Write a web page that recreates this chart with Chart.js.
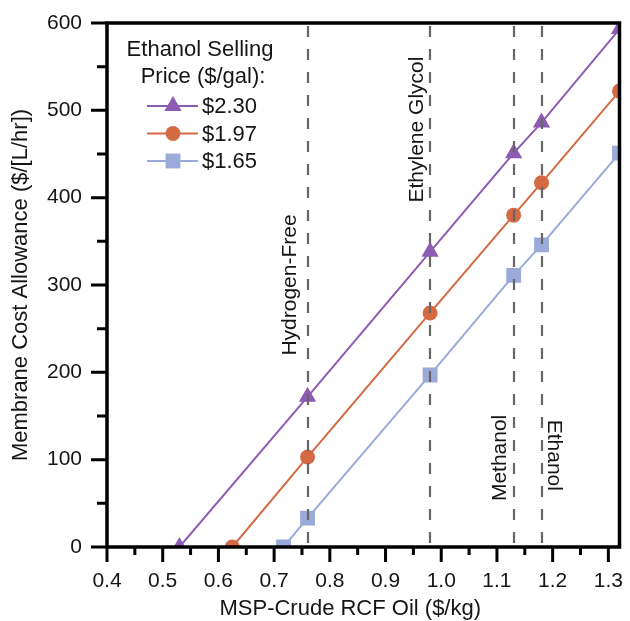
<!DOCTYPE html>
<html><head><meta charset="utf-8">
<script src="https://cdn.jsdelivr.net/npm/chart.js@4.4.1/dist/chart.umd.min.js"></script>
<style>html,body{margin:0;padding:0;background:#fff}canvas{display:block}</style>
</head><body>
<canvas id="c" width="630" height="621"></canvas>
<script>
// ---- data ----
const seriesLabels = ['$2.30', '$1.97', '$1.65'];
const mspX_230 = [0.53, 0.76, 0.98, 1.13, 1.18, 1.32];
const allow_230 = [0, 172, 338, 451, 486, 593];
const mspX_197 = [0.625, 0.76, 0.98, 1.13, 1.18, 1.32];
const allow_197 = [0, 103, 268, 380, 417, 522];
const mspX_165 = [0.717, 0.76, 0.98, 1.13, 1.18, 1.32];
const allow_165 = [0, 33, 197, 311, 346, 451];
const refX = [0.76, 0.98, 1.13, 1.18];
const refLabels = ['Hydrogen-Free', 'Ethylene Glycol', 'Methanol', 'Ethanol'];
const refLabelAt = [300, 478, 102, 105];
const xTickVals = [0.4, 0.5, 0.6, 0.7, 0.8, 0.9, 1.0, 1.1, 1.2, 1.3];
const yTickVals = [0, 100, 200, 300, 400, 500, 600];
const legendTitle = ['Ethanol Selling', 'Price ($/gal):'];
const xTitle = 'MSP-Crude RCF Oil ($/kg)';
const yTitle = 'Membrane Cost Allowance ($/[L/hr])';

const FONT = '"Liberation Sans", Arial, sans-serif';
const TXT = '#151515';
const colors = ['#8e5bb3', '#d36a43', '#9aaad9'];
const styles = ['triangle', 'circle', 'rect'];
const radii = [10, 7.5, 10.5];

const pairs = (xs, ys) => xs.map((v, i) => ({x: v, y: ys[i]}));
const seriesData = [pairs(mspX_230, allow_230), pairs(mspX_197, allow_197), pairs(mspX_165, allow_165)];

function marker(ctx, style, r, x, y, color) {
  ctx.save();
  ctx.fillStyle = color;
  ctx.beginPath();
  if (style === 'triangle') {
    const a = -Math.PI / 2;
    for (let k = 0; k < 3; k++) {
      const ang = a + k * 2 * Math.PI / 3;
      const px = x + Math.cos(ang) * r, py = y + Math.sin(ang) * r;
      k ? ctx.lineTo(px, py) : ctx.moveTo(px, py);
    }
    ctx.closePath();
  } else if (style === 'circle') {
    ctx.arc(x, y, r, 0, Math.PI * 2);
  } else {
    const s = Math.SQRT1_2 * r;
    ctx.rect(x - s, y - s, 2 * s, 2 * s);
  }
  ctx.fill();
  ctx.restore();
}

const deco = {
  id: 'deco',
  afterDatasetsDraw(chart) {
    const {ctx, chartArea: a, scales: {x, y}} = chart;
    ctx.save();
    // reference dashed lines
    ctx.strokeStyle = '#666666';
    ctx.lineWidth = 2.2;
    ctx.setLineDash([11, 12]);
    refX.forEach(v => {
      const px = Math.round(x.getPixelForValue(v));
      ctx.beginPath();
      ctx.moveTo(px, a.top + 3);
      ctx.lineTo(px, a.bottom);
      ctx.stroke();
    });
    ctx.setLineDash([]);
    // reference labels
    ctx.fillStyle = TXT;
    ctx.font = '21px ' + FONT;
    ctx.textAlign = 'center';
    ctx.textBaseline = 'alphabetic';
    refX.forEach((v, i) => {
      const px = x.getPixelForValue(v);
      const py = y.getPixelForValue(refLabelAt[i]);
      ctx.save();
      if (i === 3) {
        ctx.translate(px + 6, py);
        ctx.rotate(Math.PI / 2);
      } else {
        const off = [12, 7, 8][i];
        ctx.translate(px - off, py);
        ctx.rotate(-Math.PI / 2);
      }
      ctx.fillText(refLabels[i], 0, 0);
      ctx.restore();
    });
    // frame
    ctx.strokeStyle = '#000';
    ctx.lineWidth = 3.5;
    ctx.strokeRect(a.left, a.top, a.right - a.left, a.bottom - a.top);
    // ticks
    ctx.lineWidth = 3;
    ctx.beginPath();
    for (let v = 0; v <= 600; v += 50) {
      const py = y.getPixelForValue(v);
      const len = v % 100 === 0 ? 16 : 10;
      ctx.moveTo(a.left, py); ctx.lineTo(a.left - len, py);
    }
    for (let k = 0; k <= 18; k++) {
      const v = 0.4 + k * 0.05;
      const px = x.getPixelForValue(v);
      const len = k % 2 === 0 ? 15 : 8;
      ctx.moveTo(px, a.bottom); ctx.lineTo(px, a.bottom + len);
    }
    ctx.stroke();
    ctx.restore();
  },
  afterDraw(chart) {
    const {ctx, chartArea: a} = chart;
    ctx.save();
    ctx.fillStyle = TXT;
    ctx.font = '22px ' + FONT;
    ctx.textAlign = 'center';
    ctx.textBaseline = 'middle';
    const cx = a.left + 94;
    ctx.fillText(legendTitle[0], cx - 1, a.top + 27);
    ctx.fillText(legendTitle[1], cx + 2, a.top + 54);
    ctx.textAlign = 'left';
    seriesLabels.forEach((lab, i) => {
      const ly = a.top + 83 + i * 27.5;
      ctx.strokeStyle = colors[i];
      ctx.lineWidth = 2;
      ctx.beginPath();
      ctx.moveTo(a.left + 40, ly); ctx.lineTo(a.left + 91, ly);
      ctx.stroke();
      marker(ctx, styles[i], radii[i], a.left + 66, ly, colors[i]);
      ctx.fillStyle = TXT;
      ctx.fillText(lab, a.left + 95, ly + 1);
    });
    // x title
    ctx.textAlign = 'center';
    ctx.fillText(xTitle, (a.left + a.right) / 2 - 13, 609);
    ctx.restore();
  }
};

const zeroPad = s => { s.paddingTop = 0; s.paddingBottom = 0; s.paddingLeft = 0; s.paddingRight = 0; };

new Chart(document.getElementById('c'), {
  type: 'line',
  data: {
    datasets: seriesData.map((d, i) => ({
      label: seriesLabels[i],
      data: d,
      borderColor: colors[i],
      backgroundColor: colors[i],
      borderWidth: 2,
      pointStyle: styles[i],
      pointRadius: radii[i],
      pointBorderWidth: 0,
      pointBackgroundColor: colors[i],
      tension: 0,
      clip: 0
    }))
  },
  options: {
    responsive: false,
    animation: false,
    devicePixelRatio: 1,
    layout: {padding: {top: 23, right: 4, left: 0, bottom: 0}},
    plugins: {legend: {display: false}, tooltip: {enabled: false}},
    scales: {
      x: {
        type: 'linear', min: 0.4, max: 1.32,
        grid: {display: false}, border: {display: false},
        afterBuildTicks: s => { s.ticks = xTickVals.map(v => ({value: v})); },
        afterFit: s => { s.height = 74; zeroPad(s); },
        ticks: {color: TXT, font: {family: FONT, size: 21}, padding: 14, maxRotation: 0,
          callback: v => Number(v).toFixed(1)}
      },
      y: {
        type: 'linear', min: 0, max: 600,
        grid: {display: false}, border: {display: false},
        afterBuildTicks: s => { s.ticks = yTickVals.map(v => ({value: v})); },
        afterFit: s => { s.width = 107; zeroPad(s); },
        ticks: {color: TXT, font: {family: FONT, size: 21}, padding: 17},
        title: {display: true, text: yTitle, color: TXT, font: {family: FONT, size: 22},
          padding: {top: 8, bottom: 0}}
      }
    }
  },
  plugins: [deco]
});
</script>
</body></html>
